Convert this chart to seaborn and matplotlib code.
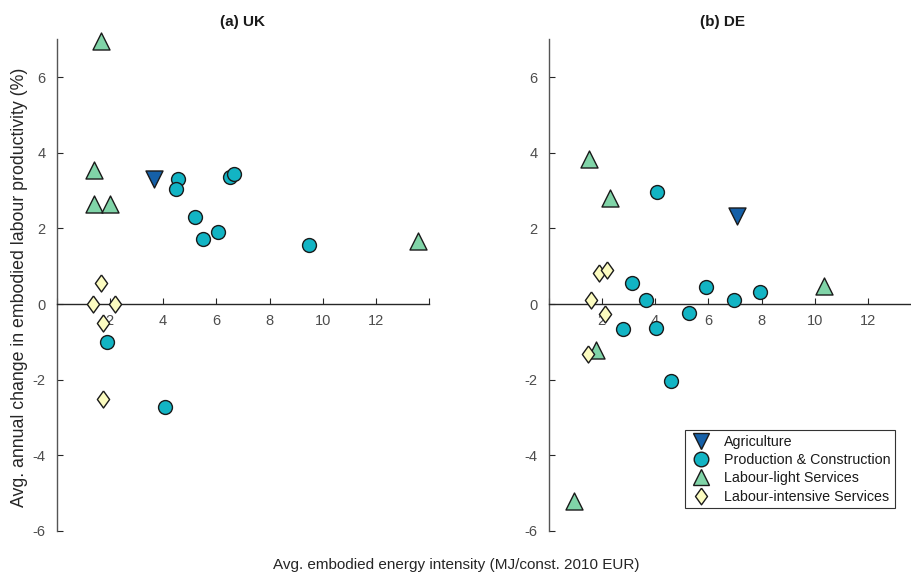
# scatter of embodied energy intensity vs labour productivity change, UK and DE
import numpy as np
import pandas as pd
import matplotlib
matplotlib.use('Agg')
import matplotlib.pyplot as plt
from matplotlib.lines import Line2D
import seaborn as sns

# ── Data ──────────────────────────────────────────────────────────────────────
SECTORS = ['Agriculture', 'Production & Construction',
           'Labour-light Services', 'Labour-intensive Services']

uk_agri_x  = [3.66]
uk_agri_y  = [3.30]
uk_prod_x  = [4.56, 4.48, 5.19, 5.52, 6.06, 6.52, 6.66, 9.49, 1.90, 4.09]
uk_prod_y  = [3.32, 3.04, 2.31, 1.71, 1.91, 3.37, 3.43, 1.56, -1.00, -2.72]
uk_light_x = [1.67, 1.42, 1.42, 2.00, 13.59]
uk_light_y = [6.97, 3.54, 2.65, 2.66, 1.67]
uk_int_x   = [1.67, 1.36, 2.19, 1.73, 1.73]
uk_int_y   = [0.57, 0.00, 0.00, -0.49, -2.51]

de_agri_x  = [7.07]
de_agri_y  = [2.33]
de_prod_x  = [4.07, 3.15, 3.67, 5.91, 6.95, 7.93, 5.29, 2.81, 4.02, 4.61]
de_prod_y  = [2.97, 0.57, 0.12, 0.46, 0.12, 0.31, -0.23, -0.66, -0.63, -2.03]
de_light_x = [1.53, 2.31, 10.33, 1.79, 0.96]
de_light_y = [3.83, 2.80, 0.48, -1.22, -5.21]
de_int_x   = [1.91, 2.21, 1.60, 2.11, 1.50]
de_int_y   = [0.81, 0.90, 0.11, -0.25, -1.32]

X_TICKS = [0, 2, 4, 6, 8, 10, 12, 14]
X_TICK_LABELS = ['', '2', '4', '6', '8', '10', '12', '']
Y_TICKS = [-6, -4, -2, 0, 2, 4, 6]


def to_frame(country, parts):
    rows = []
    for sector, xs, ys in parts:
        for x, y in zip(xs, ys):
            rows.append({'country': country, 'sector': sector, 'x': x, 'y': y})
    return pd.DataFrame(rows)


uk = to_frame('UK', [(SECTORS[0], uk_agri_x, uk_agri_y),
                     (SECTORS[1], uk_prod_x, uk_prod_y),
                     (SECTORS[2], uk_light_x, uk_light_y),
                     (SECTORS[3], uk_int_x, uk_int_y)])
de = to_frame('DE', [(SECTORS[0], de_agri_x, de_agri_y),
                     (SECTORS[1], de_prod_x, de_prod_y),
                     (SECTORS[2], de_light_x, de_light_y),
                     (SECTORS[3], de_int_x, de_int_y)])

# ── Style ─────────────────────────────────────────────────────────────────────
sns.set_style('white')
plt.rcParams['font.family'] = ['Liberation Sans', 'DejaVu Sans']
plt.rcParams['axes.unicode_minus'] = False

# MATLAB-like diamond: a bit taller than wide
DIAMOND = [(0, 1), (0.72, 0), (0, -1), (-0.72, 0), (0, 1)]

PALETTE = {SECTORS[0]: '#1560a8', SECTORS[1]: '#12b4c4',
           SECTORS[2]: '#80d4a8', SECTORS[3]: '#fcfcc0'}
MARKERS = {SECTORS[0]: 'v', SECTORS[1]: 'o', SECTORS[2]: '^', SECTORS[3]: DIAMOND}
SIZES   = {SECTORS[0]: 150, SECTORS[1]: 100, SECTORS[2]: 150, SECTORS[3]: 150}
TICK_GREY = '#4d4d4d'

fig = plt.figure(figsize=(9.11, 5.74), dpi=100)
W, H = 911, 574
ax_w = 372.8 / W
ax_b = 1 - 531 / H
ax_h = (531 - 39.4) / H
ax_uk = fig.add_axes([56.5 / W, ax_b, ax_w, ax_h])
ax_de = fig.add_axes([548.5 / W, ax_b, ax_w, ax_h])


def draw(ax, df, title, title_x):
    for sector in SECTORS:
        sub = df[df['sector'] == sector]
        sns.scatterplot(data=sub, x='x', y='y', ax=ax, color=PALETTE[sector],
                        marker=MARKERS[sector], s=SIZES[sector],
                        edgecolor='#1a1a1a', linewidth=1.0, legend=False,
                        zorder=3, clip_on=False)
    ax.set_xlim(0, 14)
    ax.set_ylim(-6, 7)
    ax.spines['left'].set_position(('data', 0))
    ax.spines['bottom'].set_position(('data', 0))
    ax.spines['top'].set_visible(False)
    ax.spines['right'].set_visible(False)
    ax.spines['left'].set_color('#555555')
    ax.spines['bottom'].set_color('#262626')
    for sp in ('left', 'bottom'):
        ax.spines[sp].set_linewidth(1.0)
    ax.set_xticks(X_TICKS)
    ax.set_xticklabels(X_TICK_LABELS)
    ax.set_yticks(Y_TICKS)
    ax.tick_params(axis='both', direction='in', length=4, width=0.8,
                   bottom=True, left=True,
                   colors='#262626', labelcolor=TICK_GREY, labelsize=10.5)
    ax.tick_params(axis='x', pad=7)
    ax.tick_params(axis='y', pad=8)
    ax.set_xlabel('')
    ax.set_ylabel('')
    ax.set_title(title, fontsize=11, fontweight='bold', pad=10, x=title_x,
                 color='#1a1a1a')


draw(ax_uk, uk, '(a) UK', 0.5)
draw(ax_de, de, '(b) DE', 0.468)

LEG_SIZE = {SECTORS[0]: 12, SECTORS[1]: 10.5, SECTORS[2]: 12, SECTORS[3]: 12}
handles = [Line2D([], [], linestyle='none', marker=MARKERS[s],
                  markerfacecolor=PALETTE[s], markeredgecolor='#1a1a1a',
                  markeredgewidth=1.0, markersize=LEG_SIZE[s],
                  label=s) for s in SECTORS]
leg = ax_de.legend(handles=handles, loc='lower right',
                   bbox_to_anchor=(902 / W, 1 - 515 / H),
                   bbox_transform=fig.transFigure, fontsize=10.3,
                   frameon=True, fancybox=False, framealpha=1,
                   edgecolor='#333333', borderpad=0.3, labelspacing=0.3,
                   handletextpad=0.8, handlelength=1.6)
leg.get_frame().set_linewidth(0.8)
for t in leg.get_texts():
    t.set_color('#1a1a1a')

fig.text(456 / W, 1 - 565 / H,
         'Avg. embodied energy intensity (MJ/const. 2010 EUR)',
         ha='center', va='center', fontsize=11, color='#262626')
fig.text(19.5 / W, 1 - 287 / H,
         'Avg. annual change in embodied labour productivity (%)',
         ha='center', va='center', rotation=90, fontsize=12.8, color='#262626')

fig.savefig('out.png', dpi=100)
print('saved out.png')
